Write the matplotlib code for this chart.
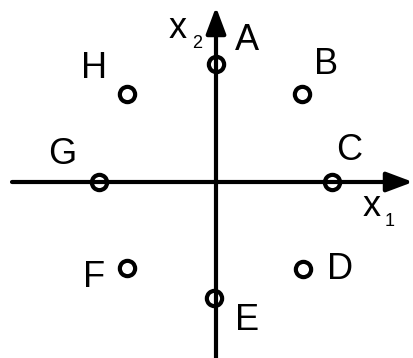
import numpy as np
import matplotlib.pyplot as plt

plt.rcParams['font.family'] = ['Liberation Sans', 'DejaVu Sans']

# signal points (unit ~ radius of the constellation)
names = ['A', 'B', 'C', 'D', 'E', 'F', 'G', 'H']
px = [0.0, 0.73, 0.98, 0.74, -0.02, -0.75, -0.99, -0.75]
py = [1.0, 0.75, 0.0, -0.74, -0.98, -0.73, 0.0, 0.75]
# label offsets from each point
lx = [0.26, 0.20, 0.15, 0.31, 0.28, -0.28, -0.31, -0.28]
ly = [0.20, 0.25, 0.27, 0.0, -0.19, -0.08, 0.23, 0.21]

S = 118.0  # pixels per unit
cx, cy = 216, 182

fig = plt.figure(figsize=(4.14, 3.58), dpi=100)
ax = fig.add_axes([0, 0, 1, 1])
ax.set_xlim(-cx / S, (414 - cx) / S)
ax.set_ylim(-(358 - cy) / S, cy / S)
ax.axis('off')

# axes with arrows
arrow = dict(arrowstyle='-|>,head_length=0.8,head_width=0.3', lw=3, color='black',
             shrinkA=0, shrinkB=0, mutation_scale=20)
ax.annotate('', xy=((413 - cx) / S, 0), xytext=((12 - cx) / S, 0), arrowprops=arrow)
ax.annotate('', xy=(0, (cy - 7) / S), xytext=(0, -(358 - cy) / S), arrowprops=arrow)

ax.plot(px, py, 'o', ms=11, mfc='none', mec='black', mew=3, zorder=3)

for n, x, y, dx, dy in zip(names, px, py, lx, ly):
    ax.text(x + dx, y + dy, n, fontsize=26, ha='center', va='center')

ax.text((178 - cx) / S, (cy - 28) / S, 'x', fontsize=26, ha='center', va='center')
ax.text((197 - cx) / S, (cy - 43) / S, '2', fontsize=13, ha='center', va='center')
ax.text((372 - cx) / S, (cy - 206) / S, 'x', fontsize=26, ha='center', va='center')
ax.text((390 - cx) / S, (cy - 222) / S, '1', fontsize=13, ha='center', va='center')

fig.savefig('out.png', dpi=100)
